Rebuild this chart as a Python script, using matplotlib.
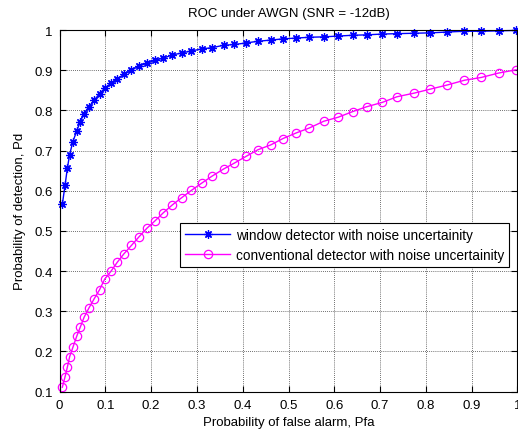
#!/usr/bin/env python3
"""ROC curves under AWGN: window detector vs conventional detector."""
import matplotlib
matplotlib.use("Agg")
import matplotlib.pyplot as plt
from matplotlib.ticker import FormatStrFormatter

plt.rcParams["font.family"] = ["Liberation Sans", "DejaVu Sans"]

pfa = [0.006, 0.012, 0.017, 0.022, 0.029, 0.0375, 0.045, 0.0535, 0.064, 0.0755,
       0.0875, 0.0985, 0.1125, 0.126, 0.1405, 0.157, 0.174, 0.191, 0.2083, 0.2264,
       0.2465, 0.267, 0.288, 0.3105, 0.3325, 0.358, 0.382, 0.408, 0.433, 0.461,
       0.488, 0.517, 0.545, 0.577, 0.6085, 0.640, 0.6705, 0.705, 0.737, 0.7745,
       0.810, 0.846, 0.884, 0.921, 0.959, 0.997]

pd_window = [0.566, 0.614, 0.656, 0.690, 0.722, 0.749, 0.772, 0.792, 0.809, 0.825,
             0.842, 0.855, 0.868, 0.878, 0.890, 0.900, 0.911, 0.917, 0.925, 0.930,
             0.938, 0.943, 0.948, 0.953, 0.956, 0.962, 0.964, 0.968, 0.972, 0.975,
             0.978, 0.980, 0.982, 0.983, 0.985, 0.987, 0.988, 0.990, 0.991, 0.992,
             0.993, 0.995, 0.997, 0.997, 0.998, 0.999]

pd_conventional = [0.111, 0.137, 0.161, 0.187, 0.210, 0.238, 0.260, 0.285, 0.308, 0.331,
                   0.354, 0.380, 0.400, 0.422, 0.443, 0.464, 0.486, 0.507, 0.525, 0.545,
                   0.565, 0.583, 0.601, 0.619, 0.636, 0.654, 0.669, 0.686, 0.702, 0.714,
                   0.730, 0.744, 0.756, 0.773, 0.783, 0.797, 0.809, 0.820, 0.834, 0.843,
                   0.853, 0.863, 0.875, 0.882, 0.893, 0.901]

x_ticks = [0, 0.1, 0.2, 0.3, 0.4, 0.5, 0.6, 0.7, 0.8, 0.9, 1]
y_ticks = [0.1, 0.2, 0.3, 0.4, 0.5, 0.6, 0.7, 0.8, 0.9, 1]

fig = plt.figure(figsize=(5.18, 4.31), dpi=100)
ax = fig.add_axes([0.115, 0.089, 0.884, 0.839])

ax.plot(pfa, pd_window, color="#0000ff", lw=1.0, marker=(8, 2, 0), ms=6, mew=0.9,
        clip_on=False, label="window detector with noise uncertainity")
ax.plot(pfa, pd_conventional, color="#ff00ff", lw=1.0, marker="o", ms=6, mfc="none",
        mew=0.9, clip_on=False, label="conventional detector with noise uncertainity")

ax.set_xlim(0, 1)
ax.set_ylim(0.1, 1)
ax.set_xticks(x_ticks)
ax.set_yticks(y_ticks)
ax.xaxis.set_major_formatter(FormatStrFormatter("%g"))
ax.yaxis.set_major_formatter(FormatStrFormatter("%g"))
ax.tick_params(direction="in", length=4, labelsize=9.5, top=True, right=True, pad=5)
ax.grid(True, color="#000000", ls=(0, (1, 1.5)), lw=0.6, alpha=0.75)
for s in ax.spines.values():
    s.set_linewidth(0.8)

ax.set_title("ROC under AWGN (SNR = -12dB)", fontsize=9.5, pad=10)
ax.set_xlabel("Probability of false alarm, Pfa", fontsize=9.5, labelpad=4)
ax.set_ylabel("Probability of detection, Pd", fontsize=9.5, labelpad=6)

leg = ax.legend(loc="upper left", bbox_to_anchor=(0.264, 0.466), fontsize=9.8,
                numpoints=1, fancybox=False, framealpha=1, edgecolor="black",
                handlelength=3.3, borderpad=0.35, labelspacing=0.45, handletextpad=0.4,
                borderaxespad=0)
leg.get_frame().set_linewidth(0.8)

fig.savefig("out.png", dpi=100)
